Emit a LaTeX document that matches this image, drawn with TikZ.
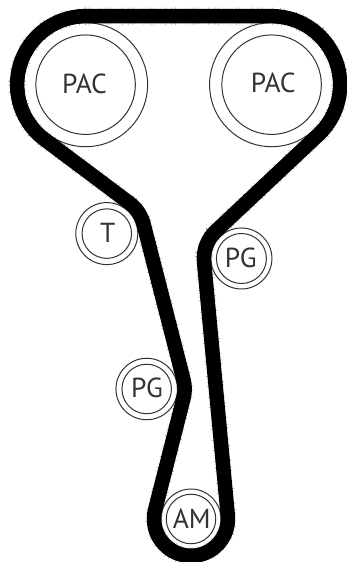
\documentclass[tikz,border=0pt]{standalone}
\usepackage{fontspec}
\setmainfont{PT Sans}
\definecolor{ink}{HTML}{333333}
\tikzset{
  ringouter/.style={circle,draw=ink,line width=1pt,inner sep=0pt,fill=white},
  ringinner/.style={circle,draw=ink,line width=1pt,inner sep=0pt},
  labeltext/.style={inner sep=0pt,text=ink,font=\fontsize{27.5}{27.5}\selectfont},
}
\newcommand{\beltpath}{
  (85.6,545.8) -- (271.6,545.8)
  arc[start angle=90,end angle=-46.79,radius=68.5]
  -- (215.7,330.8)
  arc[start angle=133.21,end angle=185.36,radius=37.5]
  -- (227.8,46.5)
  arc[start angle=5.36,end angle=-194.28,radius=37]
  -- (183.5,163.6)
  arc[start angle=-14.28,end angle=14.39,radius=38]
  -- (143.6,337.9)
  arc[start angle=14.39,end angle=53.2,radius=38]
  -- (44.6,422.5)
  arc[start angle=-126.8,end angle=-270,radius=68.5]
  -- cycle
}
\begin{document}
\begin{tikzpicture}[x=1pt,y=1pt]
\useasboundingbox (0,0) rectangle (346,562);
\fill[white] (0,0) rectangle (346,562);
% pulleys
\node[ringouter,minimum size=124pt] (pacLo) at (85.6,477.3) {};
\node[ringinner,minimum size=99.5pt] (pacLi) at (85.6,477.3) {};
\node[ringouter,minimum size=124pt] (pacRo) at (271.6,477.3) {};
\node[ringinner,minimum size=99.5pt] (pacRi) at (271.6,477.3) {};
\node[ringouter,minimum size=62pt] (tO) at (106.8,328.4) {};
\node[ringinner,minimum size=49.5pt] (tI) at (106.8,328.4) {};
\node[ringouter,minimum size=61pt] (pgRo) at (241.4,303.5) {};
\node[ringinner,minimum size=50pt] (pgRi) at (241.4,303.5) {};
\node[ringouter,minimum size=61.5pt] (pgLo) at (146.7,173) {};
\node[ringinner,minimum size=49.5pt] (pgLi) at (146.7,173) {};
\node[ringouter,minimum size=60pt] (amO) at (191,43) {};
\node[ringinner,minimum size=49.5pt] (amI) at (191,43) {};
% labels
\node[labeltext] (l1) at (84.5,478) {PAC};
\node[labeltext] (l2) at (273.3,479.5) {PAC};
\node[labeltext] (l3) at (107.7,329.3) {T};
\node[labeltext] (l4) at (240.7,303.7) {PG};
\node[labeltext] (l5) at (147,173.7) {PG};
\node[labeltext] (l6) at (191.7,43.7) {AM};
% belt: faint teeth, then solid band
\draw[black!40,line width=17.5pt,dash pattern=on 0.5pt off 3pt on 0.5pt off 11pt on 0.5pt off 6pt,line join=round] \beltpath;
\draw[black,line width=14.5pt,line join=round] \beltpath;
\end{tikzpicture}
\end{document}
